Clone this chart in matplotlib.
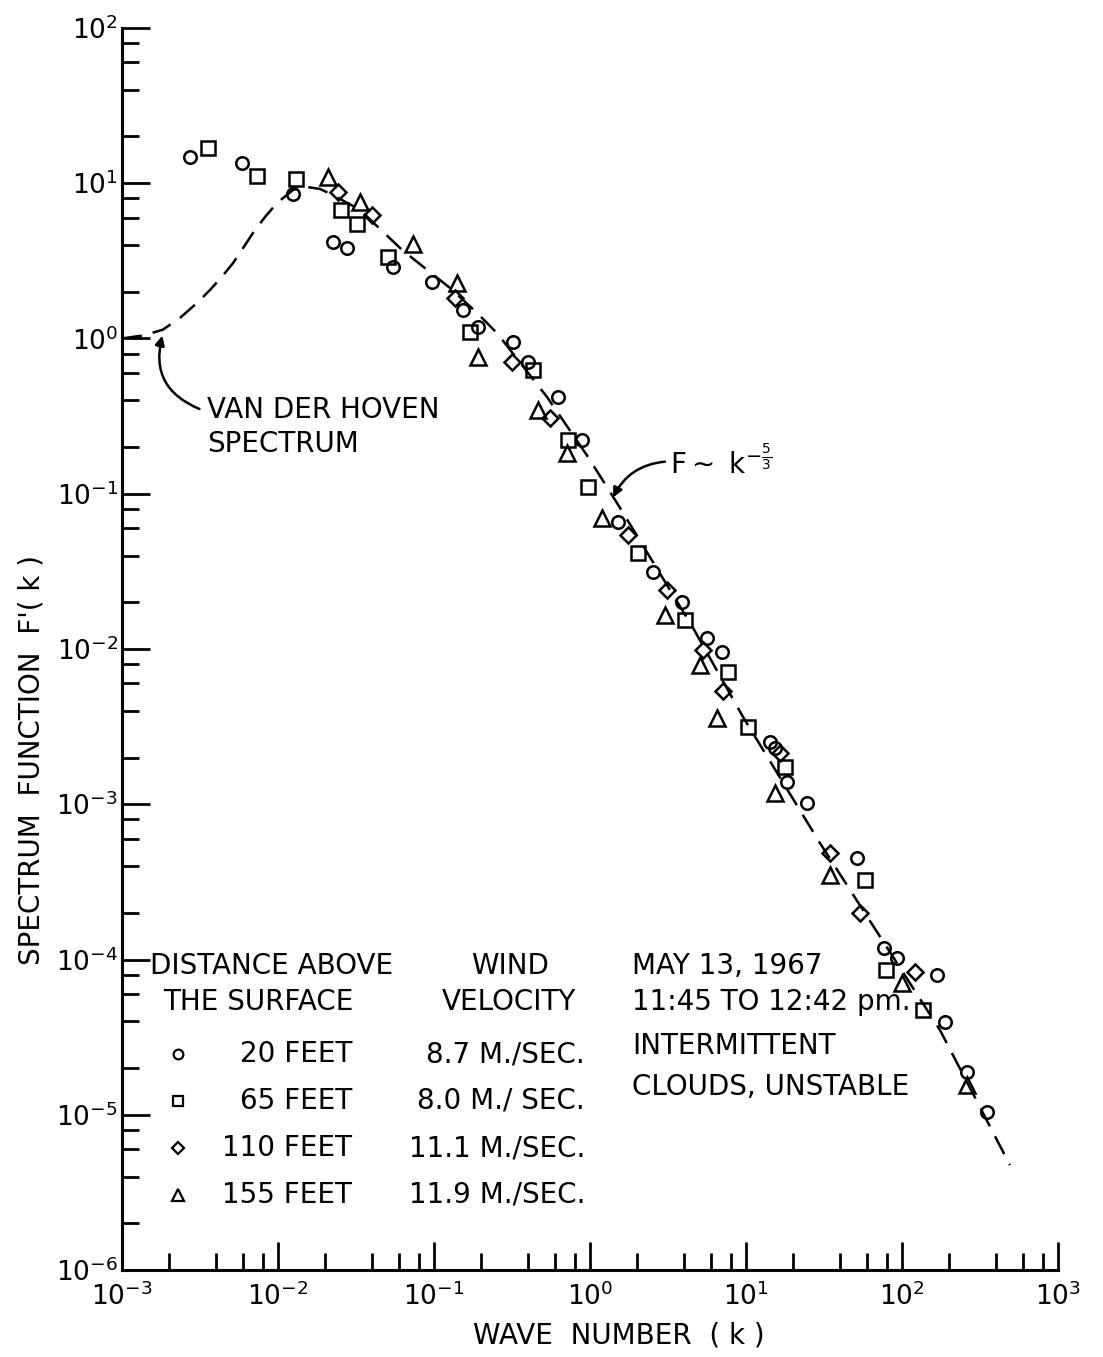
import numpy as np
import matplotlib
matplotlib.use("Agg")
import matplotlib.pyplot as plt
from matplotlib.ticker import FixedLocator, LogFormatterMathtext, NullFormatter

plt.rcParams['font.family'] = ['DejaVu Sans']
plt.rcParams['mathtext.fontset'] = 'dejavusans'

# measured points, wave number k and spectrum function F'(k)
# 20 feet (circles)
k_20ft = [0.00273, 0.00587, 0.0125, 0.0226, 0.0277, 0.0546, 0.097, 0.153, 0.191,
          0.321, 0.401, 0.624, 0.889, 1.51, 2.54, 3.89, 5.62, 7.02, 14.3, 15.3,
          18.3, 24.6, 51.5, 76.7, 92.9, 167, 189, 261, 351]
F_20ft = [14.8, 13.5, 8.53, 4.19, 3.83, 2.89, 2.31, 1.53, 1.19,
          0.949, 0.706, 0.420, 0.222, 0.0658, 0.0313, 0.0201, 0.0118, 0.00957, 0.00252, 0.00230,
          0.00139, 0.00102, 4.51e-4, 1.19e-4, 1.02e-4, 7.94e-5, 3.96e-5, 1.88e-5, 1.04e-5]

# 65 feet (squares)
k_65ft = [0.00356, 0.00732, 0.0130, 0.0254, 0.0321, 0.0507, 0.170, 0.432, 0.723,
          0.970, 2.03, 4.06, 7.67, 10.3, 17.8, 57.9, 78.9, 136]
F_65ft = [16.9, 11.1, 10.6, 6.73, 5.47, 3.35, 1.10, 0.627, 0.222,
          0.110, 0.0415, 0.0154, 0.00711, 0.00315, 0.00174, 3.25e-4, 8.55e-5, 4.73e-5]

# 110 feet (diamonds)
k_110ft = [0.0243, 0.0401, 0.137, 0.316, 0.555, 1.75, 3.12, 5.30, 7.13, 16.5, 34.5, 53.8, 121]
F_110ft = [8.79, 6.24, 1.82, 0.706, 0.308, 0.0542, 0.0240, 0.00986, 0.00536, 0.00214,
           4.85e-4, 2.00e-4, 8.30e-5]

# 155 feet (triangles)
k_155ft = [0.0209, 0.0336, 0.0733, 0.140, 0.191, 0.465, 0.713, 1.19, 3.03, 5.07, 6.52,
           15.3, 34.5, 100, 261]
F_155ft = [11.0, 7.57, 4.06, 2.28, 0.760, 0.346, 0.183, 0.0698, 0.0166, 0.00789, 0.00360,
           0.00118, 3.50e-4, 7.06e-5, 1.56e-5]

# van der hoven spectrum + k^-5/3 range (dashed curve)
k_curve = [0.00100, 0.00140, 0.00183, 0.00236, 0.00300, 0.00366, 0.00440, 0.00515, 0.00600,
           0.00692, 0.00830, 0.00986, 0.0125, 0.0153, 0.0186, 0.0225, 0.0336, 0.0451,
           0.0624, 0.0875, 0.127, 0.189, 0.254, 0.530, 0.970, 1.56, 4.57, 9.57, 29.8, 175, 492]
F_curve = [1.00, 1.05, 1.14, 1.36, 1.68, 2.05, 2.52, 3.06, 3.85,
           4.79, 6.10, 7.46, 9.06, 9.46, 9.18, 8.39, 6.73, 5.07,
           3.72, 2.84, 2.11, 1.46, 1.08, 0.420, 0.173, 0.0809, 0.0137, 0.00365, 5.62e-4, 3.52e-5, 4.74e-6]

heights = ['20 FEET', '65 FEET', '110 FEET', '155 FEET']
speeds = ['8.7 M./SEC.', '8.0 M./ SEC.', '11.1 M./SEC.', '11.9 M./SEC.']
notes = ['MAY 13, 1967', '11:45 TO 12:42 pm.', 'INTERMITTENT', 'CLOUDS, UNSTABLE']

fig = plt.figure(figsize=(11.03, 13.57), dpi=100)
ax = fig.add_axes([0.1106, 0.0641, 0.8486, 0.9153])

ax.set_xscale('log')
ax.set_yscale('log')
ax.set_xlim(1e-3, 1e3)
ax.set_ylim(1e-6, 1e2)

lw = 1.8
ax.plot(k_curve, F_curve, color='black', lw=lw, dashes=(8, 4.5))

mk = dict(ls='none', mfc='none', mec='black', mew=lw, clip_on=False)
ax.plot(k_20ft, F_20ft, marker='o', ms=9, **mk)
ax.plot(k_65ft, F_65ft, marker='s', ms=9.5, **mk)
ax.plot(k_110ft, F_110ft, marker='D', ms=8, **mk)
ax.plot(k_155ft, F_155ft, marker='^', ms=11, **mk)

# axes look
for side in ['top', 'right']:
    ax.spines[side].set_visible(False)
for side in ['left', 'bottom']:
    ax.spines[side].set_linewidth(2.2)

x_major = 10.0 ** np.arange(-3, 4)
y_major = 10.0 ** np.arange(-6, 3)
x_minor = np.concatenate([[2 * d, 4 * d, 6 * d, 8 * d] for d in x_major[:-1]])
y_minor = np.concatenate([[2 * d, 4 * d, 6 * d, 8 * d] for d in y_major[:-1]])
ax.xaxis.set_major_locator(FixedLocator(x_major))
ax.yaxis.set_major_locator(FixedLocator(y_major))
ax.xaxis.set_minor_locator(FixedLocator(x_minor))
ax.yaxis.set_minor_locator(FixedLocator(y_minor))
ax.xaxis.set_major_formatter(LogFormatterMathtext())
ax.yaxis.set_major_formatter(LogFormatterMathtext())
ax.xaxis.set_minor_formatter(NullFormatter())
ax.yaxis.set_minor_formatter(NullFormatter())
ax.tick_params(which='major', direction='in', length=20, width=2.0, labelsize=19)
ax.tick_params(which='minor', direction='in', length=12, width=2.0)
ax.tick_params(axis='x', which='major', pad=9)
ax.tick_params(axis='y', which='major', pad=3)

fs = 20
fig.text(0.561, 0.016, 'WAVE  NUMBER  ( k )', ha='center', va='center', fontsize=fs)
fig.text(0.029, 0.44, "SPECTRUM  FUNCTION  F'( k )", ha='center', va='center',
         rotation=90, fontsize=fs)

# curve annotations
ax.text(0.0908, 0.6924, 'VAN DER HOVEN', transform=ax.transAxes, fontsize=fs,
        ha='left', va='center')
ax.text(0.0908, 0.6650, 'SPECTRUM', transform=ax.transAxes, fontsize=fs,
        ha='left', va='center')
ax.annotate('', xy=(0.0438, 0.7544), xytext=(0.0855, 0.6924),
            xycoords='axes fraction', textcoords='axes fraction',
            arrowprops=dict(arrowstyle='-|>', color='black', lw=1.8,
                            connectionstyle='arc3,rad=-0.45', mutation_scale=14))

ax.text(0.585, 0.650, r'F$\sim$ k$^{-\frac{5}{3}}$', transform=ax.transAxes,
        fontsize=fs, ha='left', va='center')
ax.annotate('', xy=(0.5235, 0.620), xytext=(0.583, 0.651),
            xycoords='axes fraction', textcoords='axes fraction',
            arrowprops=dict(arrowstyle='-|>', color='black', lw=1.8,
                            connectionstyle='arc3,rad=0.3', mutation_scale=14))

# legend block
ax.text(0.0299, 0.2448, 'DISTANCE ABOVE', transform=ax.transAxes, fontsize=fs, va='center')
ax.text(0.0438, 0.2158, 'THE SURFACE', transform=ax.transAxes, fontsize=fs, va='center')
ax.text(0.415, 0.2448, 'WIND', transform=ax.transAxes, fontsize=fs, va='center', ha='center')
ax.text(0.4135, 0.2158, 'VELOCITY', transform=ax.transAxes, fontsize=fs, va='center', ha='center')

row_y = [0.1739, 0.1361, 0.0982, 0.0604]
symbols = [('o', 7), ('s', 7), ('D', 6.5), ('^', 8)]
for yy, (m, s), h, v in zip(row_y, symbols, heights, speeds):
    ax.plot([0.0598], [yy], marker=m, ms=s, mfc='none', mec='black', mew=1.6,
            transform=ax.transAxes, clip_on=False)
    ax.text(0.2457, yy, h, transform=ax.transAxes, fontsize=fs, va='center', ha='right')
    ax.text(0.4947, yy, v, transform=ax.transAxes, fontsize=fs, va='center', ha='right')

for yy, t in zip([0.2448, 0.2158, 0.1804, 0.1473], notes):
    ax.text(0.5449, yy, t, transform=ax.transAxes, fontsize=fs, va='center', ha='left')

fig.savefig('out.png', dpi=100, facecolor='white')
